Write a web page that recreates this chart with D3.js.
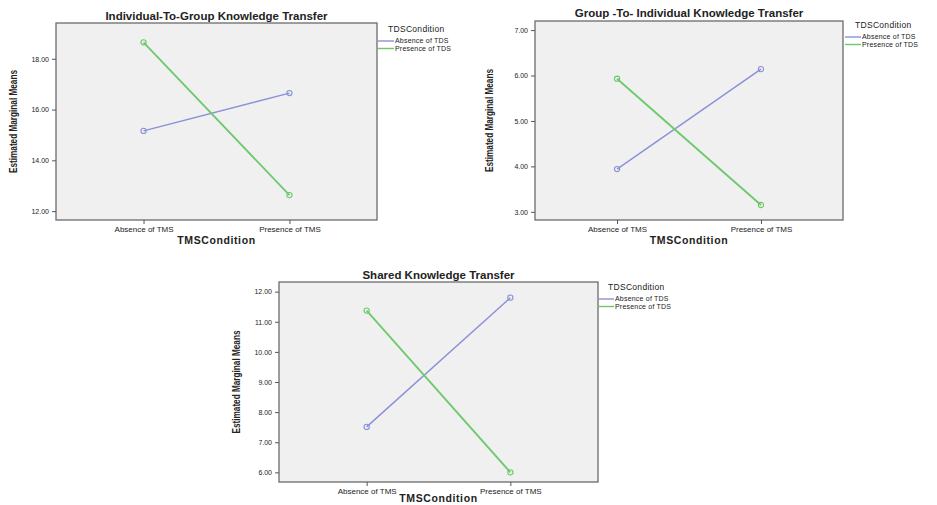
<!DOCTYPE html>
<html>
<head>
<meta charset="utf-8">
<script src="https://cdn.jsdelivr.net/npm/d3@7"></script>
<style>
  html, body { margin: 0; padding: 0; background: #ffffff; }
  svg { display: block; }
  text { font-family: "Liberation Sans", Arial, sans-serif; fill: #222; }
</style>
</head>
<body>
<svg id="chart" width="937" height="505"></svg>
<script>
// ---- data ----
const categories = ["Absence of TMS", "Presence of TMS"];
const seriesNames = ["Absence of TDS", "Presence of TDS"];
const legendTitle = "TDSCondition";
const xAxisTitle = "TMSCondition";
const yAxisTitle = "Estimated Marginal Means";

const titles = [
  "Individual-To-Group Knowledge Transfer",
  "Group -To- Individual Knowledge Transfer",
  "Shared Knowledge Transfer"
];

const itgAbsenceTDS = [15.16, 16.65];
const itgPresenceTDS = [18.65, 12.63];
const gtiAbsenceTDS = [3.94, 6.14];
const gtiPresenceTDS = [5.93, 3.15];
const skAbsenceTDS = [7.51, 11.80];
const skPresenceTDS = [11.37, 6.00];

const itgTicks = [12, 14, 16, 18];
const gtiTicks = [3, 4, 5, 6, 7];
const skTicks = [6, 7, 8, 9, 10, 11, 12];

// ---- layout ----
const seriesColors = ["#8a90d8", "#6cc96c"];

const panels = [
  { title: titles[0], series: [itgAbsenceTDS, itgPresenceTDS], ticks: itgTicks,
    box: { x0: 56, x1: 377, y0: 23, y1: 220 }, domain: [11.65, 19.41], pad: 0.6,
    titleY: 20, ylabX: 13, legX: 378, legY: 32, xTitleOff: 24 },
  { title: titles[1], series: [gtiAbsenceTDS, gtiPresenceTDS], ticks: gtiTicks,
    box: { x0: 535, x1: 843, y0: 21, y1: 220 }, domain: [2.82, 7.20], pad: 0.57,
    titleY: 17, ylabX: 489, legX: 845, legY: 28, xTitleOff: 24 },
  { title: titles[2], series: [skAbsenceTDS, skPresenceTDS], ticks: skTicks,
    box: { x0: 279, x1: 598, y0: 282, y1: 482 }, domain: [5.68, 12.32], pad: 0.61,
    titleY: 279, ylabX: 236, legX: 598, legY: 290, xTitleOff: 20 }
];

const svg = d3.select("#chart");

panels.forEach(p => {
  const g = svg.append("g");
  const b = p.box;
  const x = d3.scalePoint().domain(categories).range([b.x0, b.x1]).padding(p.pad);
  const y = d3.scaleLinear().domain(p.domain).range([b.y1, b.y0]);

  // plot background + frame
  g.append("rect")
    .attr("x", b.x0).attr("y", b.y0)
    .attr("width", b.x1 - b.x0).attr("height", b.y1 - b.y0)
    .attr("fill", "#f0f0f0")
    .attr("stroke", "#6b6b6b").attr("stroke-width", 1.3);

  // y axis
  const yAxis = d3.axisLeft(y).tickValues(p.ticks).tickSize(4).tickPadding(3)
    .tickFormat(d3.format(".2f"));
  const ya = g.append("g").attr("transform", `translate(${b.x0},0)`).call(yAxis);
  ya.select(".domain").remove();
  ya.selectAll(".tick line").attr("stroke", "#555");
  ya.selectAll(".tick text").attr("font-size", 7).attr("fill", "#333")
    .attr("font-family", "'Liberation Sans', Arial, sans-serif");

  // x axis
  const xAxis = d3.axisBottom(x).tickSize(4).tickPadding(2);
  const xa = g.append("g").attr("transform", `translate(0,${b.y1})`).call(xAxis);
  xa.select(".domain").remove();
  xa.selectAll(".tick line").attr("stroke", "#555");
  xa.selectAll(".tick text").attr("font-size", 8).attr("fill", "#333")
    .attr("font-family", "'Liberation Sans', Arial, sans-serif");

  // title
  g.append("text")
    .attr("x", (b.x0 + b.x1) / 2).attr("y", p.titleY)
    .attr("text-anchor", "middle").attr("font-size", 11.5).attr("font-weight", "bold")
    .attr("fill", "#111")
    .text(p.title);

  // x axis title
  g.append("text")
    .attr("x", (b.x0 + b.x1) / 2).attr("y", b.y1 + p.xTitleOff)
    .attr("text-anchor", "middle").attr("font-size", 10.5).attr("font-weight", "bold")
    .attr("letter-spacing", 0.6).attr("fill", "#222")
    .text(xAxisTitle);

  // y axis title
  g.append("text")
    .attr("transform", `translate(${p.ylabX},${(b.y0 + b.y1) / 2}) rotate(-90)`)
    .attr("text-anchor", "middle").attr("dy", "0.35em")
    .attr("font-size", 10).attr("font-weight", "bold")
    .attr("font-family", "'Liberation Sans Narrow', 'DejaVu Sans Condensed', Arial, sans-serif")
    .attr("textLength", 103).attr("lengthAdjust", "spacingAndGlyphs")
    .text(yAxisTitle);

  // lines & markers
  const line = d3.line().x((d, i) => x(categories[i])).y(d => y(d));
  p.series.forEach((s, si) => {
    g.append("path").datum(s)
      .attr("d", line).attr("fill", "none")
      .attr("stroke", seriesColors[si]).attr("stroke-width", si === 1 ? 1.8 : 1.4);
    g.selectAll(null).data(s).enter().append("circle")
      .attr("cx", (d, i) => x(categories[i])).attr("cy", d => y(d))
      .attr("r", 2.6).attr("fill", "none")
      .attr("stroke", seriesColors[si]).attr("stroke-width", 1.1);
  });

  // legend
  const lg = g.append("g").attr("transform", `translate(${p.legX},${p.legY})`);
  lg.append("text").attr("x", 10).attr("y", 0).attr("font-size", 8.5)
    .attr("letter-spacing", 0.3).attr("fill", "#333").text(legendTitle);
  seriesNames.forEach((n, i) => {
    const yy = 9 + i * 7.5;
    lg.append("line").attr("x1", 0).attr("x2", 16).attr("y1", yy).attr("y2", yy)
      .attr("stroke", seriesColors[i]).attr("stroke-width", 1.4);
    lg.append("text").attr("x", 17).attr("y", yy).attr("dy", "0.35em")
      .attr("font-size", 7).attr("letter-spacing", 0.2).attr("fill", "#222").text(n);
  });
});
</script>
</body>
</html>
